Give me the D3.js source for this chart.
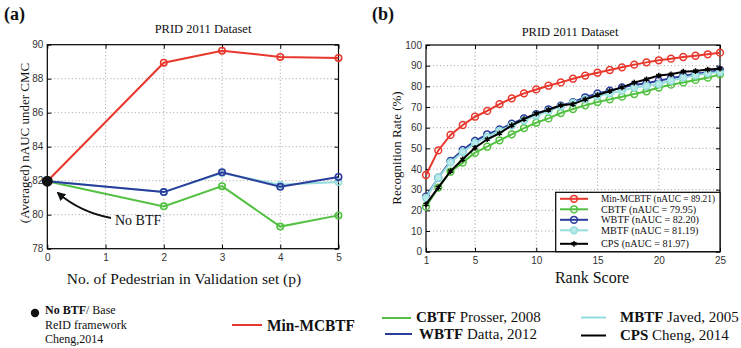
<!DOCTYPE html>
<html><head><meta charset="utf-8">
<script src="https://cdn.jsdelivr.net/npm/d3@7"></script>
<style>
html,body{margin:0;padding:0;background:#fff;}
svg{display:block;}
.tk{font-family:"Liberation Sans",Arial,sans-serif;font-size:10px;fill:#333;}
.serif{font-family:"Liberation Serif","Times New Roman",serif;fill:#111;}
</style></head>
<body>
<script>
// ---------- Data: panel (a) ----------
const pValues = [0, 2, 3, 4, 5];
const minMcbtfA = [81.97, 88.94, 89.65, 89.28, 89.22];
const cbtfA     = [81.97, 80.49, 81.68, 79.30, 79.96];
const mbtfA     = [81.97, 81.33, 82.45, 81.76, 81.92];
const wbtfA     = [81.97, 81.33, 82.49, 81.64, 82.22];
const noBtfA    = [0, 81.97];
const xTicksA = [0, 1, 2, 3, 4, 5];
const yTicksA = [78, 80, 82, 84, 86, 88, 90];

// ---------- Data: panel (b) ----------
const ranks = d3.range(1, 26);
const minMcbtfB = [37.1, 49.0, 56.5, 61.3, 65.3, 68.1, 71.4, 74.2, 76.6, 78.5, 80.3, 81.9, 83.7, 85.2, 86.6, 87.9, 89.2, 90.5, 91.6, 92.6, 93.4, 94.2, 94.8, 95.5, 96.3];
const cbtfB     = [21.8, 31.0, 38.7, 43.1, 47.9, 50.8, 53.9, 56.8, 59.8, 62.4, 64.5, 67.1, 69.0, 70.8, 72.4, 73.7, 75.0, 76.3, 77.6, 79.4, 80.8, 81.9, 83.1, 84.2, 85.8];
const wbtfB     = [26.6, 35.8, 43.9, 49.2, 53.6, 56.8, 59.2, 61.9, 64.5, 66.6, 68.9, 70.6, 72.3, 74.7, 76.6, 77.9, 79.5, 80.6, 81.5, 82.7, 83.9, 85.0, 86.0, 86.8, 87.9];
const mbtfB     = [26.0, 35.8, 43.2, 48.2, 52.5, 55.5, 58.5, 61.0, 63.5, 65.8, 68.0, 70.2, 72.0, 73.7, 75.3, 76.6, 77.9, 79.4, 80.2, 81.1, 82.7, 84.2, 85.3, 86.3, 86.9];
const cpsB      = [22.9, 31.0, 39.0, 44.7, 50.3, 54.4, 57.3, 61.1, 64.1, 66.8, 68.6, 70.8, 71.4, 73.7, 75.8, 77.7, 79.5, 81.8, 83.4, 85.2, 85.8, 87.1, 87.4, 88.1, 88.5];
const xTicksB = [1, 5, 10, 15, 20, 25];
const yTicksB = d3.range(0, 101, 10);
const legendB = ["Min-MCBTF (nAUC = 89.21)", "CBTF (nAUC = 79.95)", "WBTF (nAUC = 82.20)", "MBTF (nAUC = 81.19)", "CPS (nAUC = 81.97)"];

const C = {red:"#e8372c", green:"#52c040", blue:"#2a3c9c", cyan:"#95dcdc", black:"#000"};

const svg = d3.select("body").append("svg").attr("width", 741).attr("height", 348);
svg.append("rect").attr("width",741).attr("height",348).attr("fill","#fff");

function frame(g, x, y, xt, yt, fmtX) {
  const [x0,x1] = x.range(), [y0,y1] = y.range();
  g.append("g").selectAll("line").data(xt.filter(v=>x(v)>x0+1 && x(v)<x1-1)).join("line")
    .attr("x1",d=>x(d)).attr("x2",d=>x(d)).attr("y1",y1).attr("y2",y0)
    .attr("stroke","#888").attr("stroke-width",0.8).attr("stroke-dasharray","1,2.5");
  g.append("g").selectAll("line").data(yt.filter(v=>y(v)<y0-1 && y(v)>y1+1)).join("line")
    .attr("y1",d=>y(d)).attr("y2",d=>y(d)).attr("x1",x0).attr("x2",x1)
    .attr("stroke","#888").attr("stroke-width",0.8).attr("stroke-dasharray","1,2.5");
  const ax = g.append("g").attr("transform",`translate(0,${y0})`)
    .call(d3.axisBottom(x).tickValues(xt).tickSize(-4).tickPadding(5).tickFormat(fmtX||d3.format("d")));
  const ay = g.append("g").attr("transform",`translate(${x0},0)`)
    .call(d3.axisLeft(y).tickValues(yt).tickSize(-4).tickPadding(4).tickFormat(d3.format("d")));
  const at = g.append("g").attr("transform",`translate(0,${y1})`)
    .call(d3.axisTop(x).tickValues(xt).tickSize(-4).tickFormat(""));
  const ar = g.append("g").attr("transform",`translate(${x1},0)`)
    .call(d3.axisRight(y).tickValues(yt).tickSize(-4).tickFormat(""));
  [ax,ay,at,ar].forEach(a=>{
    a.select(".domain").remove();
    a.selectAll("line").attr("stroke","#000").attr("stroke-width",1);
    a.selectAll("text").attr("class","tk").attr("font-family",null).attr("font-size",null);
  });
  g.append("rect").attr("x",x0).attr("y",y1).attr("width",x1-x0).attr("height",y0-y1)
    .attr("fill","none").attr("stroke","#000").attr("stroke-width",1.2);
}

// ================= Panel (a) =================
const gA = svg.append("g");
const xA = d3.scaleLinear().domain([0,5]).range([47.3, 338.5]);
const yA = d3.scaleLinear().domain([78,90]).range([248.7, 44.7]);
frame(gA, xA, yA, xTicksA, yTicksA);

const lineA = d3.line().x((d,i)=>xA(pValues[i])).y(d=>yA(d));
const seriesA = [
  {v:minMcbtfA, c:C.red},
  {v:cbtfA, c:C.green},
  {v:mbtfA, c:C.cyan},
  {v:wbtfA, c:C.blue}
];
seriesA.forEach(s=>{
  gA.append("path").datum(s.v).attr("d",lineA).attr("fill","none")
    .attr("stroke",s.c).attr("stroke-width",2);
  gA.append("g").selectAll("circle").data(s.v.slice(1)).join("circle")
    .attr("cx",(d,i)=>xA(pValues[i+1])).attr("cy",d=>yA(d)).attr("r",3.2)
    .attr("fill","none").attr("stroke",s.c).attr("stroke-width",1.6);
});
gA.append("circle").attr("cx",xA(noBtfA[0])).attr("cy",yA(noBtfA[1])).attr("r",5.5).attr("fill","#111");

svg.append("defs").append("marker").attr("id","ah").attr("viewBox","0 0 10 10")
  .attr("refX",8).attr("refY",5).attr("markerWidth",5).attr("markerHeight",5)
  .attr("orient","auto-start-reverse")
  .append("path").attr("d","M0,0 L10,5 L0,10 z").attr("fill","#111");
gA.append("path").attr("d","M111,218 Q80,212 58,193").attr("fill","none")
  .attr("stroke","#111").attr("stroke-width",1.8).attr("marker-end","url(#ah)");
gA.append("text").attr("class","serif").attr("x",115).attr("y",225).attr("font-size",14).text("No BTF");

gA.append("text").attr("class","serif").attr("x",203).attr("y",33).attr("text-anchor","middle")
  .attr("font-size",12.5).text("PRID 2011 Dataset");
gA.append("text").attr("class","serif").attr("transform","translate(29,143) rotate(-90)")
  .attr("text-anchor","middle").attr("font-size",13).text("(Averaged) nAUC under CMC");
gA.append("text").attr("class","serif").attr("x",184).attr("y",284).attr("text-anchor","middle")
  .attr("font-size",15.5).text("No. of Pedestrian in Validation set (p)");
gA.append("text").attr("class","serif").attr("x",4).attr("y",20).attr("font-size",18)
  .attr("font-weight","bold").text("(a)");

// ================= Panel (b) =================
const gB = svg.append("g");
const xB = d3.scaleLinear().domain([1,25]).range([426, 720]);
const yB = d3.scaleLinear().domain([0,100]).range([251.7, 45]);
frame(gB, xB, yB, xTicksB, yTicksB);

const lineB = d3.line().x((d,i)=>xB(ranks[i])).y(d=>yB(d));
const seriesB = [
  {v:minMcbtfB, c:C.red, m:"o", fill:"none"},
  {v:cbtfB, c:C.green, m:"o", fill:"none"},
  {v:wbtfB, c:C.blue, m:"o", fill:"none"},
  {v:mbtfB, c:C.cyan, m:"o", fill:"#b9eaea"},
  {v:cpsB, c:C.black, m:"x"}
];
seriesB.forEach(s=>{
  gB.append("path").datum(s.v).attr("d",lineB).attr("fill","none")
    .attr("stroke",s.c).attr("stroke-width",2);
  if (s.m==="o") {
    gB.append("g").selectAll("circle").data(s.v).join("circle")
      .attr("cx",(d,i)=>xB(ranks[i])).attr("cy",d=>yB(d)).attr("r",3.4)
      .attr("fill",s.fill).attr("stroke",s.c).attr("stroke-width",1.5);
  } else {
    gB.append("g").selectAll("path").data(s.v).join("path")
      .attr("transform",(d,i)=>`translate(${xB(ranks[i])},${yB(d)})`)
      .attr("d",d3.symbol(d3.symbolAsterisk,22)).attr("fill","none")
      .attr("stroke",s.c).attr("stroke-width",1.5);
  }
});

const lg = gB.append("g");
lg.append("rect").attr("x",555.7).attr("y",192.3).attr("width",720-555.7).attr("height",251.7-192.3)
  .attr("fill","#fff").attr("stroke","#000").attr("stroke-width",1.2);
const legY = [198.8, 209.3, 219.8, 230.3, 243.8];
seriesB.forEach((s,i)=>{
  lg.append("line").attr("x1",560).attr("x2",588).attr("y1",legY[i]).attr("y2",legY[i])
    .attr("stroke",s.c).attr("stroke-width",2);
  if (s.m==="o") lg.append("circle").attr("cx",574).attr("cy",legY[i]).attr("r",3.4)
    .attr("fill",s.fill).attr("stroke",s.c).attr("stroke-width",1.5);
  else lg.append("path").attr("transform",`translate(574,${legY[i]})`)
    .attr("d",d3.symbol(d3.symbolAsterisk,22)).attr("fill","none").attr("stroke",s.c).attr("stroke-width",1.5);
  const t = lg.append("text").attr("class","serif").attr("x",601).attr("y",legY[i]+3.6).attr("font-size",10.2)
    .text(legendB[i]);
  if (i===0) t.attr("textLength",114).attr("lengthAdjust","spacingAndGlyphs");
});

gB.append("text").attr("class","serif").attr("x",570).attr("y",36).attr("text-anchor","middle")
  .attr("font-size",12.5).text("PRID 2011 Dataset");
gB.append("text").attr("class","serif").attr("transform","translate(401,148) rotate(-90)")
  .attr("text-anchor","middle").attr("font-size",13).text("Recognition Rate (%)");
gB.append("text").attr("class","serif").attr("x",592).attr("y",283).attr("text-anchor","middle")
  .attr("font-size",16).text("Rank Score");
gB.append("text").attr("class","serif").attr("x",372).attr("y",20).attr("font-size",18)
  .attr("font-weight","bold").text("(b)");

// ================= Bottom legend =================
const bl = svg.append("g");
bl.append("circle").attr("cx",35).attr("cy",313).attr("r",4.2).attr("fill","#111");
const t1 = bl.append("text").attr("class","serif").attr("x",45).attr("y",314).attr("font-size",12);
t1.append("tspan").attr("font-weight","bold").text("No BTF");
t1.append("tspan").text("/ Base");
bl.append("text").attr("class","serif").attr("x",45).attr("y",328.5).attr("font-size",12).text("ReID framework");
bl.append("text").attr("class","serif").attr("x",45).attr("y",343).attr("font-size",12).text("Cheng,2014");

const bottomItems = [
  {c:C.red, x1:232, x2:262, y:325, tx:267, ty:331, b:"Min-MCBTF", r:"", fs:17, cond:true},
  {c:C.green, x1:382, x2:411, y:318, tx:416, ty:322, b:"CBTF", r:" Prosser, 2008", fs:15},
  {c:C.blue, x1:385, x2:412, y:334, tx:419, ty:338.5, b:"WBTF", r:" Datta, 2012", fs:15},
  {c:C.cyan, x1:581, x2:606, y:317.5, tx:620, ty:322, b:"MBTF", r:" Javed, 2005", fs:15},
  {c:C.black, x1:581, x2:606, y:335.5, tx:620, ty:339.5, b:"CPS", r:" Cheng, 2014", fs:15}
];
bottomItems.forEach(it=>{
  bl.append("line").attr("x1",it.x1).attr("x2",it.x2).attr("y1",it.y).attr("y2",it.y)
    .attr("stroke",it.c).attr("stroke-width",2);
  const t = bl.append("text").attr("class","serif").attr("x",it.tx).attr("y",it.ty).attr("font-size",it.fs);
  t.append("tspan").attr("font-weight","bold").text(it.b);
  if (it.r) t.append("tspan").text(it.r);
  if (it.cond) t.attr("textLength",88).attr("lengthAdjust","spacingAndGlyphs");
});
</script>
</body></html>
